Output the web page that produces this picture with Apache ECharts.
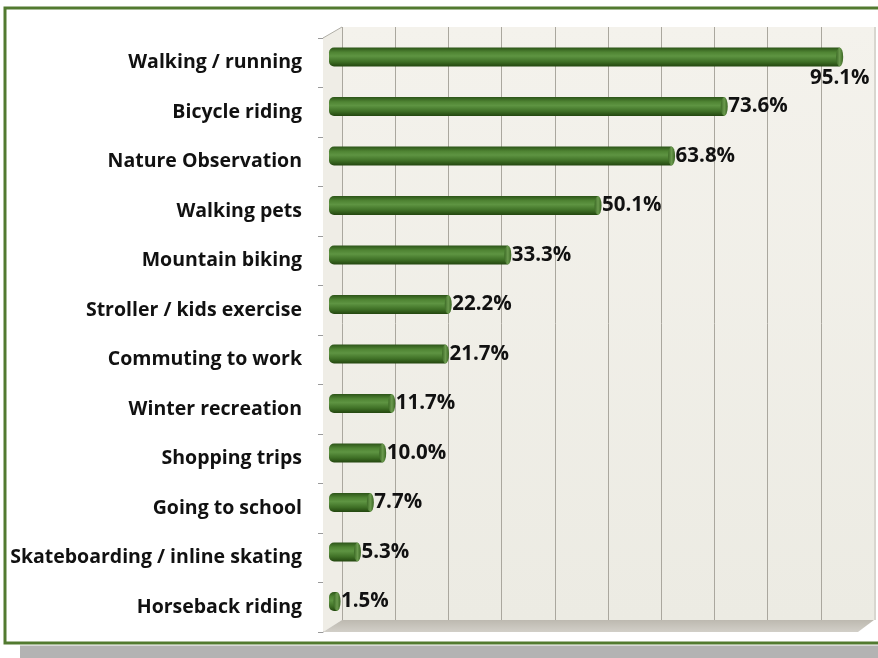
<!DOCTYPE html>
<html>
<head>
<meta charset="utf-8">
<script src="https://cdn.jsdelivr.net/npm/echarts@6/dist/echarts.min.js"></script>
<style>html,body{margin:0;padding:0;background:#fff;}#c{width:878px;height:658px;}</style>
</head>
<body>
<div id="c"></div>
<script>
const categories = [
  'Walking / running','Bicycle riding','Nature Observation','Walking pets','Mountain biking',
  'Stroller / kids exercise','Commuting to work','Winter recreation','Shopping trips',
  'Going to school','Skateboarding / inline skating','Horseback riding'
];
const values = [95.1, 73.6, 63.8, 50.1, 33.3, 22.2, 21.7, 11.7, 10.0, 7.7, 5.3, 1.5];
const axisMax = 100;
const axisInterval = 10;

const FONT = '"Open Sans"';
const barGrad = new echarts.graphic.LinearGradient(0,0,0,1,[
  {offset:0,color:'#2c5418'},{offset:0.25,color:'#4f8433'},{offset:0.45,color:'#5e9442'},
  {offset:0.75,color:'#3f7026'},{offset:1,color:'#23460f'}]);
const capGrad = new echarts.graphic.LinearGradient(0,0,1,0,[
  {offset:0,color:'#3c6a25'},{offset:0.5,color:'#6b9a4e'},{offset:1,color:'#3a6622'}]);

const barData = values.map((v,i)=> i===0 ? {
  value:v,
  label:{position:['100%','100%'],align:'center',verticalAlign:'top',offset:[0,1]}
} : v);

const chart = echarts.init(document.getElementById('c'));
chart.setOption({
  animation:false,
  graphic:[
    {type:'rect',z:-10,shape:{x:5,y:8,width:900,height:635},style:{fill:'#ffffff',stroke:'#527a30',lineWidth:3}},
    {type:'rect',z:-10,shape:{x:20,y:645.5,width:870,height:13},style:{fill:'#b3b3b3'}},
    {type:'polygon',z:1,shape:{points:[[323,38],[342,27],[342,620],[323,632]]},style:{fill:'#efede6'}},
    {type:'polyline',z:1,shape:{points:[[323,38],[342,27]]},style:{stroke:'#b0aea6',lineWidth:1}},
    {type:'polygon',z:1,shape:{points:[[323,632],[342,620],[874,620],[858,632]]},
      style:{fill:new echarts.graphic.LinearGradient(0,0,0,1,[{offset:0,color:'#bdb9b0'},{offset:1,color:'#d2cfc8'}])}},
    {type:'polygon',z:1,shape:{points:[[874,27],[876,27],[876,620],[874,620]]},style:{fill:'#d8d6cf'}}
  ],
  grid:[
    {left:329,right:12,top:32.25,bottom:31.75},
    {left:342,right:4,top:27,bottom:38,show:true,borderWidth:0,
      backgroundColor:new echarts.graphic.LinearGradient(0,0,0,1,[{offset:0,color:'#f4f2ec'},{offset:1,color:'#ecebe3'}])},
    {left:323,right:12,top:38,bottom:26}
  ],
  xAxis:[
    {gridIndex:0,type:'value',min:0,max:axisMax,interval:axisInterval,show:false},
    {gridIndex:1,type:'value',min:0,max:axisMax,interval:axisInterval,
      axisLine:{show:false},axisTick:{show:false},axisLabel:{show:false},
      splitLine:{show:true,lineStyle:{color:'#aaa79e',width:1}}},
    {gridIndex:2,type:'value',min:0,max:axisMax,show:false}
  ],
  yAxis:[
    {gridIndex:0,type:'category',data:categories,inverse:true,show:false},
    {gridIndex:1,type:'category',data:categories,inverse:true,show:false},
    {gridIndex:2,type:'category',data:categories,inverse:true,
      axisLine:{show:true,lineStyle:{color:'#9a9a9a',width:1}},
      axisTick:{show:true,length:5,lineStyle:{color:'#9a9a9a'}},
      axisLabel:{margin:21,color:'#111',fontFamily:FONT,fontWeight:'bold',fontSize:19.5}}
  ],
  series:[
    {type:'bar',xAxisIndex:0,yAxisIndex:0,data:barData,barWidth:19,z:3,
      itemStyle:{color:barGrad,borderRadius:[5,0,0,5]},
      label:{show:true,position:'right',distance:4,color:'#111',fontFamily:FONT,fontWeight:'bold',fontSize:20.5,
        formatter:p=>p.value.toFixed(1)+'%'}},
    {type:'scatter',xAxisIndex:0,yAxisIndex:0,data:values,symbol:'circle',symbolSize:[7,19],z:4,
      itemStyle:{color:capGrad,opacity:1},silent:true}
  ]
});
</script>
</body>
</html>
